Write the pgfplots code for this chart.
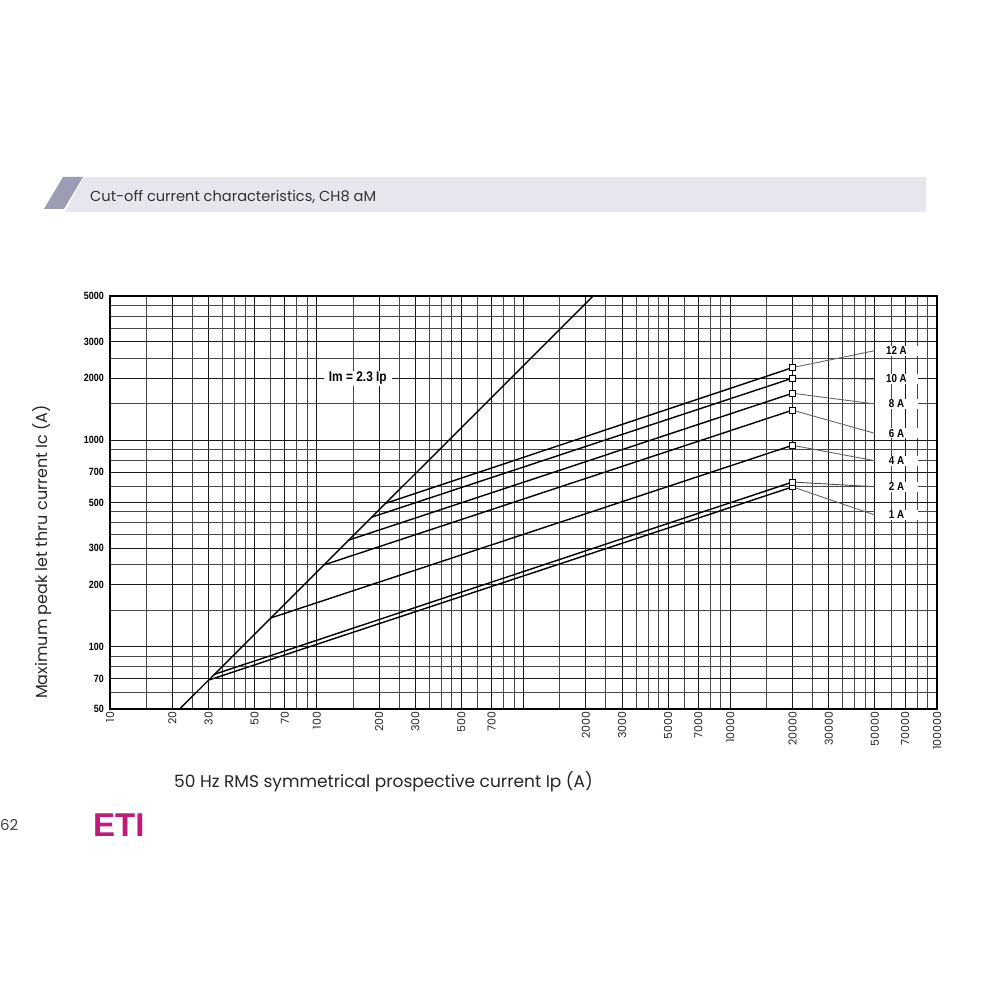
\documentclass[border=0pt]{standalone}
\usepackage{pgfplots}
\pgfplotsset{compat=1.18}
\usepackage{fontspec}
\setmainfont{Poppins}
\newfontfamily\nb[FakeStretch=0.85]{Liberation Sans}
\newfontfamily\lib{Liberation Sans}
\definecolor{barlight}{RGB}{230,230,239}
\definecolor{bardark}{RGB}{156,156,181}
\definecolor{etimag}{RGB}{192,26,122}
\begin{document}
\begin{tikzpicture}[x=1pt,y=1pt]
\path[use as bounding box] (0,0) rectangle (1000,1000);
\fill[white] (0,0) rectangle (1000,1000);
% header bar
\fill[barlight] (84,823) -- (926,823) -- (926,788) -- (65,788) -- cycle;
\fill[bardark] (63,823) -- (83,823) -- (64,791) -- (44,791) -- cycle;
\node[anchor=base west, inner sep=0pt, font=\fontsize{14.6}{14.6}\selectfont, text=black!80] at (90,798) {Cut-off current characteristics, CH8 aM};
% footer
\node[anchor=base west, inner sep=0pt, font=\fontsize{15}{15}\selectfont, text=black!75] at (0,169) {62};
\node[anchor=base west, inner sep=0pt, font=\lib\bfseries\fontsize{33}{33}\selectfont, text=etimag] at (93,163) {ETI};
% axis labels
\node[anchor=base, inner sep=0pt, font=\fontsize{17}{17}\selectfont, text=black!85] at (383.5,212) {50 Hz RMS symmetrical prospective current Ip (A)};
\node[rotate=90, anchor=base, inner sep=0pt, font=\fontsize{16}{16}\selectfont, text=black!85] at (47,448) {Maximum peak let thru current Ic (A)};
\begin{axis}[
  at={(110pt,291pt)}, anchor=south west,
  scale only axis, width=827pt, height=413pt,
  xmode=log, ymode=log,
  xmin=10, xmax=100000, ymin=50, ymax=5000,
  xtick={10,20,30,50,70,100,200,300,500,700,1000,2000,3000,5000,7000,10000,20000,30000,50000,70000,100000},
  xticklabels={10,20,30,50,70,100,200,300,500,700,,2000,3000,5000,7000,10000,20000,30000,50000,70000,100000},
  minor xtick={15,25,35,40,45,60,80,90,150,250,350,400,450,600,800,900,1500,2500,3500,4000,4500,6000,8000,9000,15000,25000,35000,40000,45000,60000,80000,90000},
  ytick={50,70,100,200,300,500,700,1000,2000,3000,5000},
  yticklabels={50,70,100,200,300,500,700,1000,2000,3000,5000},
  minor ytick={60,80,90,150,250,350,400,450,600,800,900,1500,2500,3500,4000,4500},
  grid=both,
  major grid style={black!90, line width=0.95pt},
  minor grid style={black!72, line width=0.95pt},
  major tick length=0pt, minor tick length=0pt,
  axis line style={black, line width=1.3pt},
  xticklabel style={rotate=90, anchor=east, font=\fontsize{11}{11}\selectfont, text=black!85, inner sep=2.5pt},
  yticklabel style={font=\nb\bfseries\fontsize{10.5}{10.5}\selectfont, anchor=east, inner sep=0pt, xshift=-6pt},
  clip=false,
]
% Im = 2.3 Ip
\addplot[black, line width=1.4pt] coordinates {(21.74,50) (2174,5000)};
% fuse curves
\addplot[black, line width=1.4pt] coordinates {(30,69) (20000,595)};
\addplot[black, line width=1.4pt] coordinates {(32,73.6) (20000,628)};
\addplot[black, line width=1.4pt] coordinates {(60,138) (20000,946)};
\addplot[black, line width=1.4pt] coordinates {(108,249) (20000,1400)};
\addplot[black, line width=1.4pt] coordinates {(143,329) (20000,1690)};
\addplot[black, line width=1.4pt] coordinates {(185,425) (20000,2000)};
\addplot[black, line width=1.4pt] coordinates {(215,495) (20000,2250)};
% leader lines
\addplot[black!60, line width=0.9pt] coordinates {(20000,2250) (50000,2717)};
\addplot[black!80, line width=0.9pt] coordinates {(20000,2000) (50000,1983)};
\addplot[black!60, line width=0.9pt] coordinates {(20000,1690) (50000,1500)};
\addplot[black!60, line width=0.9pt] coordinates {(20000,1400) (50000,1081)};
\addplot[black!60, line width=0.9pt] coordinates {(20000,946) (50000,797)};
\addplot[black!70, line width=0.9pt] coordinates {(20000,628) (50000,596)};
\addplot[black!60, line width=0.9pt] coordinates {(20000,595) (50000,435)};
% end markers
\addplot[only marks, mark=square*, mark size=2.8pt, mark options={draw=black, fill=white, line width=0.7pt}] coordinates {(20000,595) (20000,628) (20000,946) (20000,1400) (20000,1690) (20000,2000) (20000,2250)};
% labels
\node[fill=white, inner xsep=5pt, inner ysep=1pt, font=\nb\bfseries\fontsize{14}{14}\selectfont] at (axis cs:158,2000) {Im = 2.3 Ip};
\foreach \v/\t in {2717/12 A,1983/10 A,1500/8 A,1081/6 A,797/4 A,596/2 A,435/1 A}{
  \edef\temp{\noexpand\node[fill=white, anchor=west, minimum width=43pt, inner xsep=0pt, inner ysep=1pt, font=\noexpand\nb\noexpand\bfseries\noexpand\fontsize{11.5}{11.5}\noexpand\selectfont] at (axis cs:50000,\v) {\t};}
  \temp
}
\end{axis}
\end{tikzpicture}
\end{document}
